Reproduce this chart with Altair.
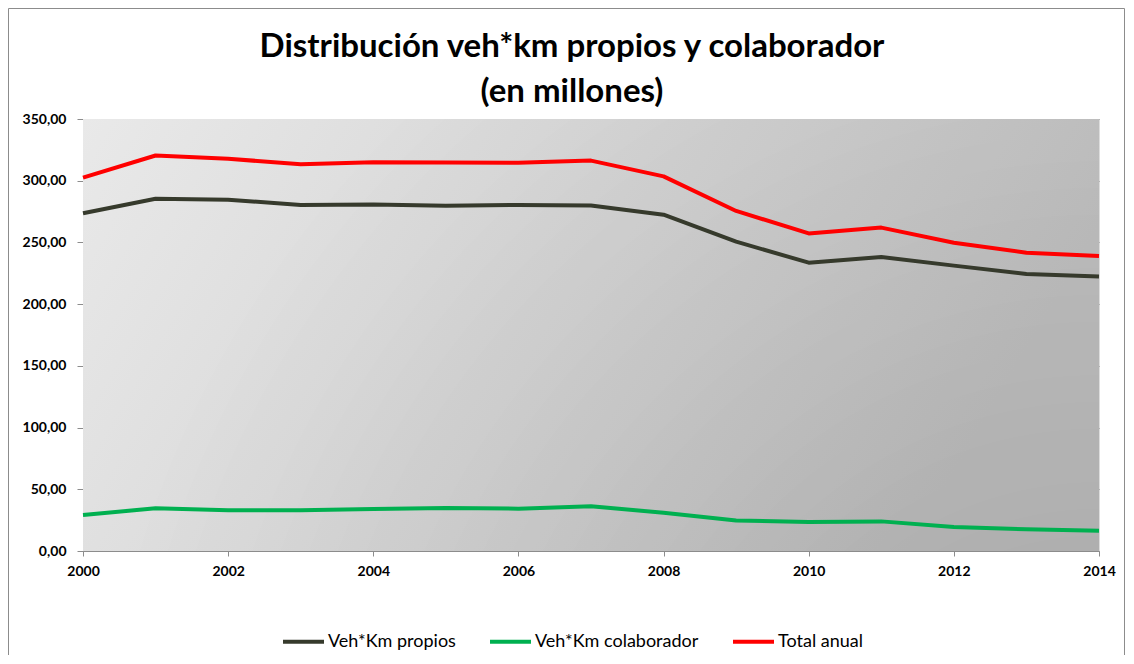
import altair as alt
import pandas as pd

years = list(range(2000, 2015))
propios = [273.6, 285.4, 284.6, 280.3, 280.8, 279.8, 280.3, 280.0, 272.5, 250.6, 233.6, 238.2, 231.2, 224.4, 222.3]
colaborador = [29.2, 34.6, 33.0, 33.0, 34.0, 34.8, 34.3, 36.2, 31.0, 24.8, 23.5, 24.0, 19.4, 17.6, 16.5]
total = [302.5, 320.4, 317.8, 313.3, 315.0, 314.8, 314.6, 316.3, 303.5, 275.5, 257.3, 262.0, 249.8, 241.7, 239.0]
series_names = ["Veh*Km propios", "Veh*Km colaborador", "Total anual"]
series_colors = ["#363a2c", "#00b050", "#ff0000"]
y_ticks = [0, 50, 100, 150, 200, 250, 300, 350]
x_ticks = [2000, 2002, 2004, 2006, 2008, 2010, 2012, 2014]
title_lines = ["Distribución veh*km propios y colaborador", "(en millones)"]

rows = []
for name, vals in zip(series_names, [propios, colaborador, total]):
    for yr, v in zip(years, vals):
        rows.append({"year": yr, "value": v, "serie": name})
df = pd.DataFrame(rows)

W, H = 1016, 432
PL, PT, PR, PB = 75, 111, 26, 104
FONT = "Lato"

bg = alt.Chart(alt.Data(values=[{}])).mark_rect(
    fill=alt.Gradient(
        gradient="linear",
        stops=[alt.GradientStop(color="#e9e9e9", offset=0),
               alt.GradientStop(color="#c4c4c4", offset=1)],
        x1=0, y1=0, x2=1, y2=0.25,
    ),
).encode(x=alt.value(0), x2=alt.value(W), y=alt.value(0), y2=alt.value(H))

shade = alt.Chart(alt.Data(values=[{}])).mark_rect(
    fill=alt.Gradient(
        gradient="radial",
        stops=[alt.GradientStop(color="rgba(0,0,0,0.15)", offset=0),
               alt.GradientStop(color="rgba(0,0,0,0)", offset=1)],
        x1=1, y1=1, r1=0, x2=1, y2=1, r2=1,
    ),
).encode(x=alt.value(0), x2=alt.value(W), y=alt.value(0), y2=alt.value(H))

frame = alt.Chart(alt.Data(values=[{}])).mark_rect(
    fill="transparent", stroke="#8c8c8c", strokeWidth=1, clip=False
).encode(x=alt.value(-PL + 0.5), x2=alt.value(W + PR - 0.5),
         y=alt.value(-PT + 0.5), y2=alt.value(H + PB + 20))

title1 = alt.Chart(alt.Data(values=[{"t": title_lines[0]}])).mark_text(
    font=FONT, fontSize=33, fontWeight="bold", color="black",
    align="center", baseline="alphabetic"
).encode(text="t:N", x=alt.value(489), y=alt.value(-62))

title2 = alt.Chart(alt.Data(values=[{"t": title_lines[1]}])).mark_text(
    font=FONT, fontSize=33, fontWeight="bold", color="black",
    align="center", baseline="alphabetic"
).encode(text="t:N", x=alt.value(489), y=alt.value(-17))

lines = alt.Chart(df).mark_line(strokeWidth=4, strokeJoin="round", strokeCap="butt").encode(
    x=alt.X("year:Q", scale=alt.Scale(domain=[2000, 2014], nice=False, zero=False),
            axis=alt.Axis(values=x_ticks, format="d", title=None, grid=False,
                          labelFont=FONT, labelFontWeight="bold", labelFontSize=14,
                          labelColor="black", labelPadding=8, tickSize=5,
                          tickColor="#8c8c8c", domainColor="#8c8c8c", labelFlush=False)),
    y=alt.Y("value:Q", scale=alt.Scale(domain=[0, 350], nice=False),
            axis=alt.Axis(values=y_ticks, title=None, grid=True, gridColor="#8a8a8a",
                          labelExpr="replace(format(datum.value, '.2f'), '.', ',')",
                          labelFont=FONT, labelFontWeight="bold", labelFontSize=14,
                          labelColor="black", labelPadding=11, tickSize=6,
                          tickColor="#8c8c8c", domainColor="#8c8c8c")),
    color=alt.Color("serie:N", scale=alt.Scale(domain=series_names, range=series_colors),
                    sort=series_names,
                    legend=alt.Legend(title=None, orient="none", direction="horizontal",
                                      legendX=198, legendY=500,
                                      symbolType="stroke", symbolSize=1681,
                                      symbolStrokeWidth=4, labelFont=FONT,
                                      labelFontSize=18, labelColor="black",
                                      labelLimit=400, labelOffset=2, columnPadding=26)),
    order="year:Q",
)

chart = alt.layer(bg, shade, lines, frame, title1, title2).properties(
    width=W, height=H,
    autosize=alt.AutoSizeParams(type="none"),
    padding={"left": PL, "top": PT, "right": PR, "bottom": PB},
).configure_view(stroke=None).configure(background="white")

chart.save("out.html", embed_options={"renderer": "svg", "actions": False})
